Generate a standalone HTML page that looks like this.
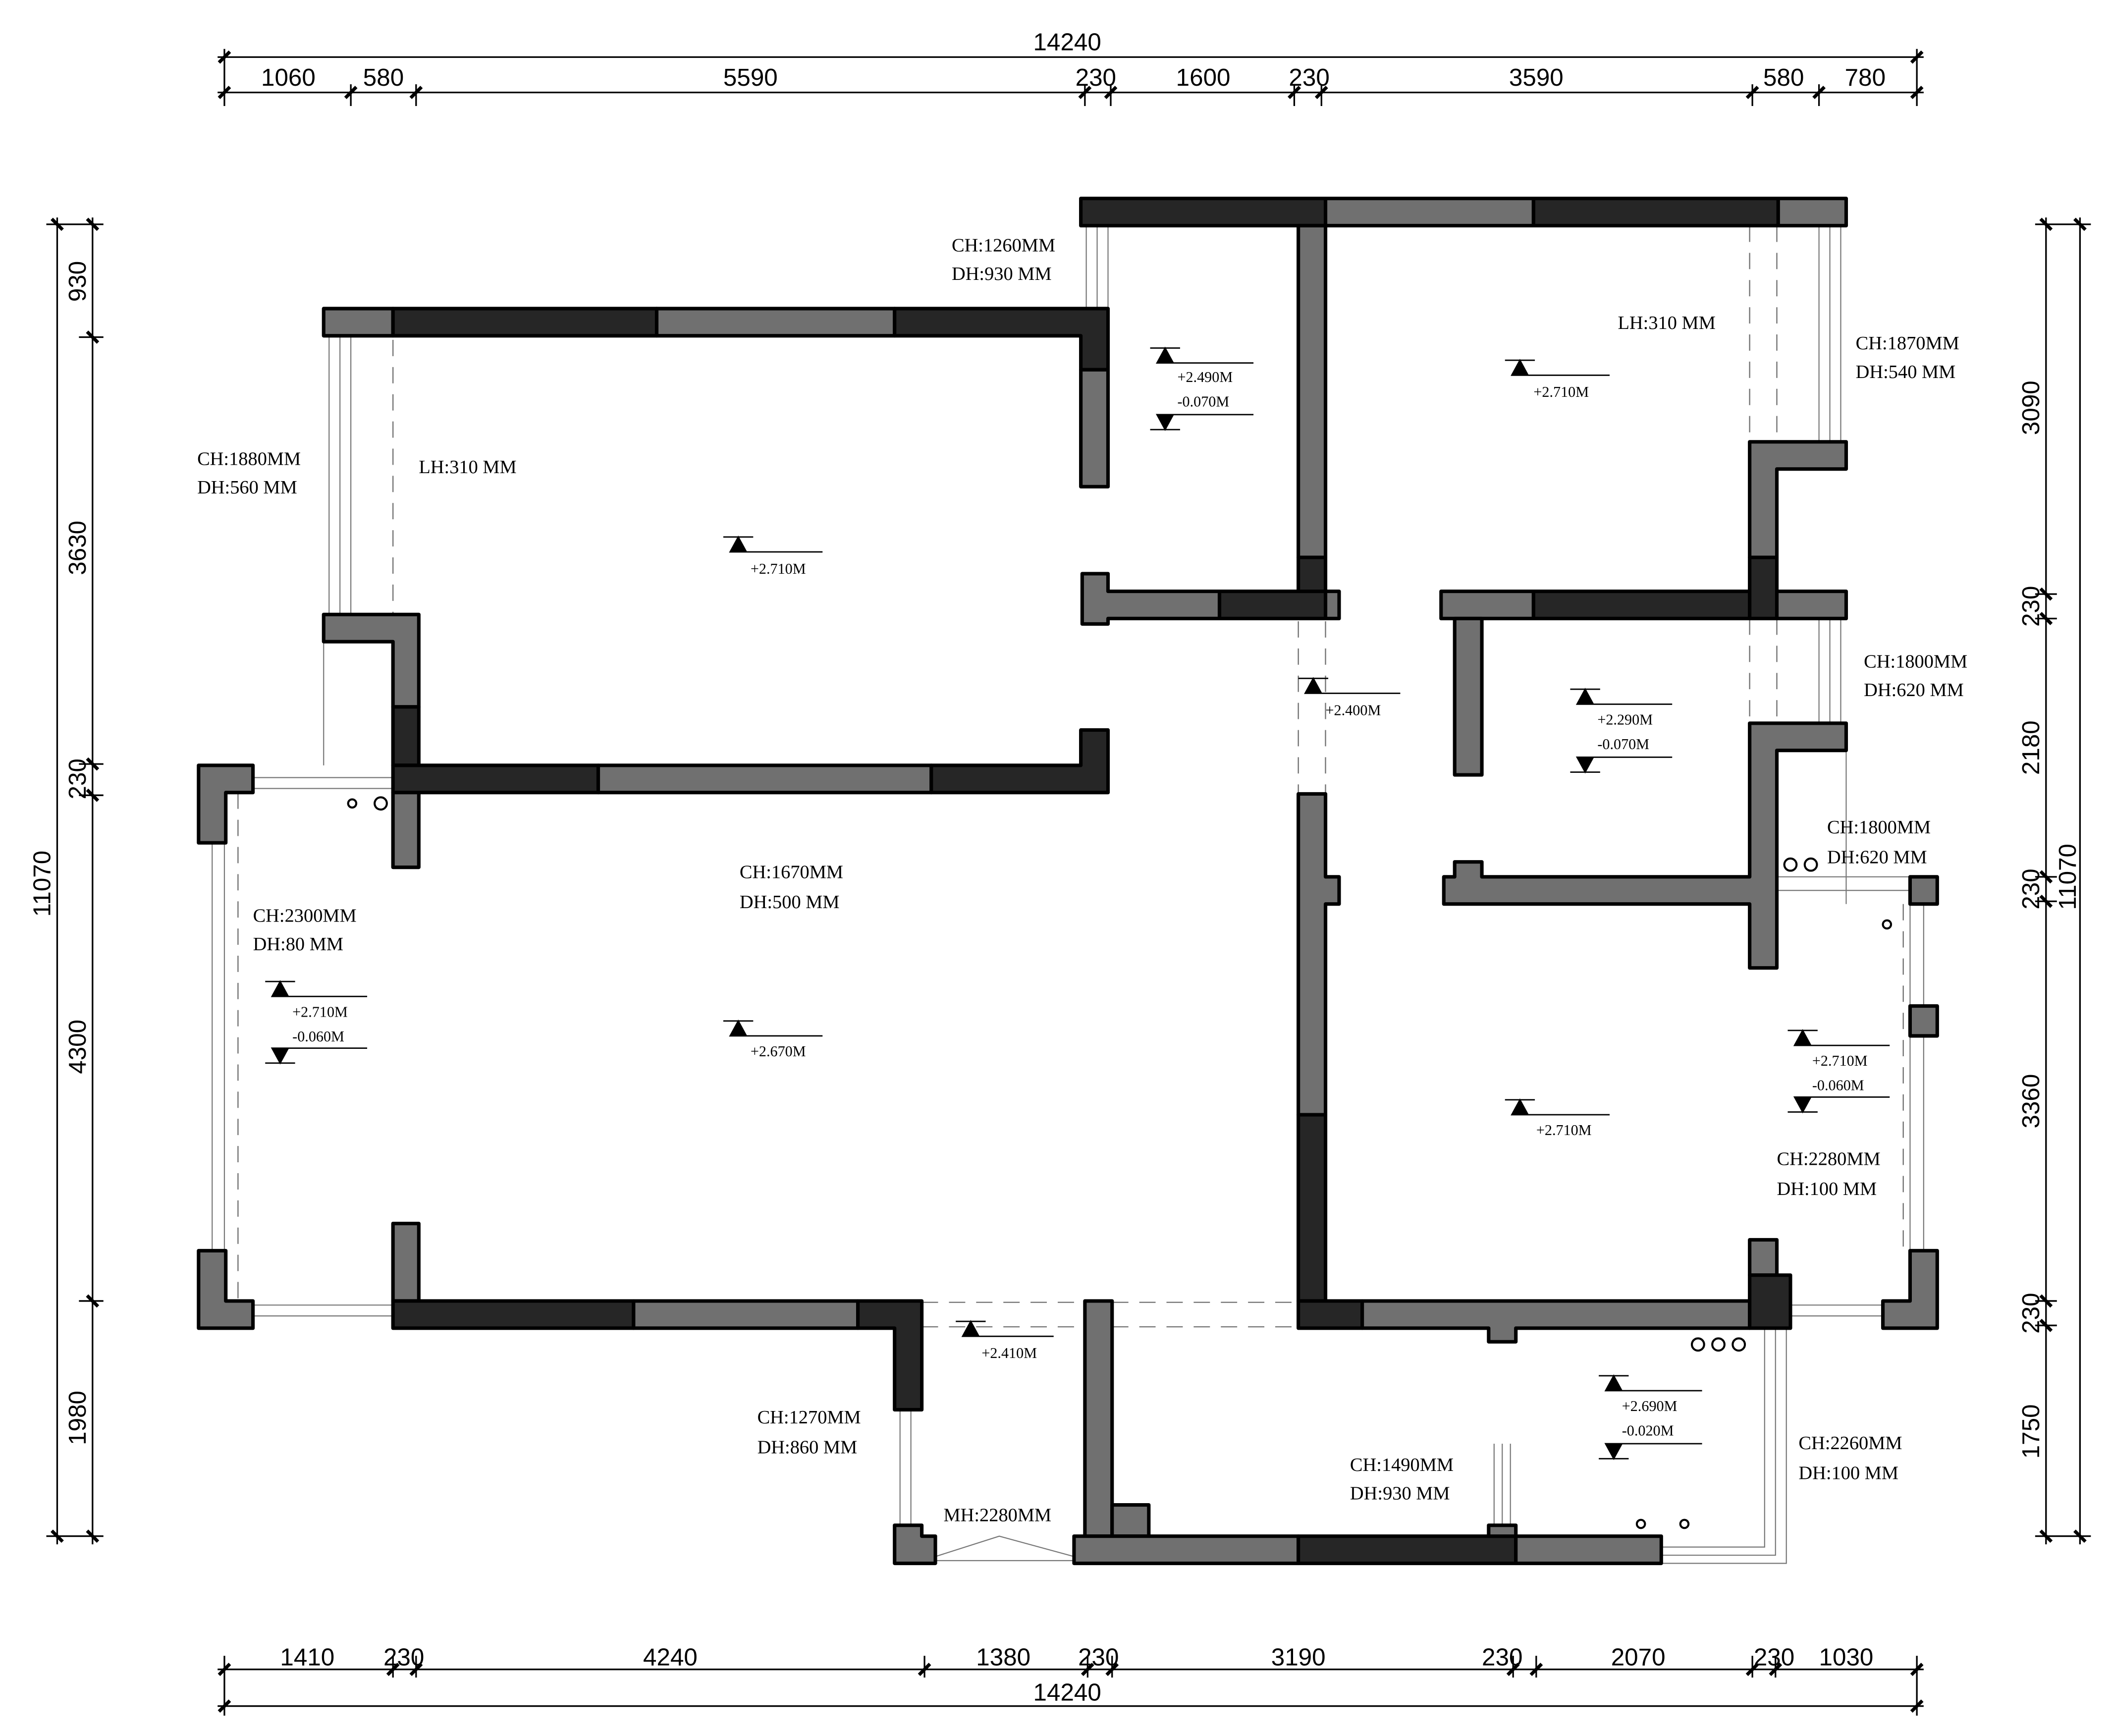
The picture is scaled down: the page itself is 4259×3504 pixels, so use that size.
<!DOCTYPE html>
<html><head><meta charset="utf-8"><style>
html,body{margin:0;padding:0;background:#fff}
svg{display:block}
.d{fill:#262626;stroke:#000;stroke-width:2.6;stroke-linejoin:round}
.g{fill:#707070;stroke:#000;stroke-width:2.6;stroke-linejoin:round}
.t{font-family:"Liberation Serif",serif;font-size:14px;fill:#000}
.s{font-family:"Liberation Serif",serif;font-size:11px;fill:#000}
.n{font-family:"Liberation Sans",sans-serif;font-size:18px;fill:#000}
.l{stroke:#000;stroke-width:1.2;fill:none}
.w{stroke:#777;stroke-width:0.8;fill:none}
.dash{stroke:#777;stroke-width:0.9;fill:none;stroke-dasharray:12 8}
</style></head><body>
<svg width="4259" height="3504" viewBox="0 0 1552 1277" xmlns="http://www.w3.org/2000/svg">
<rect width="1552" height="1277" fill="#fff"/>
<g class="l">
<line x1="160" y1="42" x2="1415" y2="42"/><line x1="160" y1="68" x2="1415" y2="68"/>
<path d="M165 36V78 M1410 36V78 M258 62V78 M306 62V78 M798 62V78 M817 62V78 M952 62V78 M972 62V78 M1289 62V78 M1338 62V78"/>
<path d="M161 46l8-8 M1406 46l8-8 M161 72l8-8 M254 72l8-8 M302 72l8-8 M794 72l8-8 M813 72l8-8 M948 72l8-8 M968 72l8-8 M1285 72l8-8 M1334 72l8-8 M1406 72l8-8" stroke-width="2.5"/>
</g>
<g class="n" text-anchor="middle">
<text x="785" y="37">14240</text>
<text x="212" y="63">1060</text><text x="282" y="63">580</text><text x="552" y="63">5590</text><text x="806" y="63">230</text><text x="885" y="63">1600</text><text x="963" y="63">230</text><text x="1130" y="63">3590</text><text x="1312" y="63">580</text><text x="1372" y="63">780</text>
</g>
<g class="l">
<line x1="160" y1="1228" x2="1415" y2="1228"/><line x1="160" y1="1255" x2="1415" y2="1255"/>
<path d="M165 1218V1262 M1410 1218V1262 M289 1218V1234 M306 1218V1234 M680 1218V1234 M800 1218V1234 M818 1218V1234 M1113 1218V1234 M1130 1218V1234 M1289 1218V1234 M1306 1218V1234"/>
<path d="M161 1232l8-8 M285 1232l8-8 M302 1232l8-8 M676 1232l8-8 M796 1232l8-8 M814 1232l8-8 M1109 1232l8-8 M1126 1232l8-8 M1285 1232l8-8 M1302 1232l8-8 M1406 1232l8-8 M161 1259l8-8 M1406 1259l8-8" stroke-width="2.5"/>
</g>
<g class="n" text-anchor="middle">
<text x="226" y="1225">1410</text><text x="297" y="1225">230</text><text x="493" y="1225">4240</text><text x="738" y="1225">1380</text><text x="808" y="1225">230</text><text x="955" y="1225">3190</text><text x="1105" y="1225">230</text><text x="1205" y="1225">2070</text><text x="1305" y="1225">230</text><text x="1358" y="1225">1030</text>
<text x="785" y="1251">14240</text>
</g>
<g class="l">
<line x1="42" y1="160" x2="42" y2="1136"/><line x1="68" y1="160" x2="68" y2="1136"/>
<path d="M34 165H76 M34 1130H76 M58 248H76 M58 562H76 M58 585H76 M58 957H76"/>
<path d="M38 161l8 8 M38 1126l8 8 M64 161l8 8 M64 244l8 8 M64 558l8 8 M64 581l8 8 M64 953l8 8 M64 1126l8 8" stroke-width="2.5"/>
</g>
<g class="n" text-anchor="middle">
<text transform="translate(63 207) rotate(-90)">930</text>
<text transform="translate(63 403) rotate(-90)">3630</text>
<text transform="translate(63 573) rotate(-90)">230</text>
<text transform="translate(63 770) rotate(-90)">4300</text>
<text transform="translate(63 1043) rotate(-90)">1980</text>
<text transform="translate(37 650) rotate(-90)">11070</text>
</g>
<g class="l">
<line x1="1505" y1="160" x2="1505" y2="1136"/><line x1="1530" y1="160" x2="1530" y2="1136"/>
<path d="M1497 165H1538 M1497 1130H1538 M1497 437H1513 M1497 455H1513 M1497 645H1513 M1497 663H1513 M1497 957H1513 M1497 975H1513"/>
<path d="M1501 161l8 8 M1526 161l8 8 M1501 1126l8 8 M1526 1126l8 8 M1501 433l8 8 M1501 451l8 8 M1501 641l8 8 M1501 659l8 8 M1501 953l8 8 M1501 971l8 8" stroke-width="2.5"/>
</g>
<g class="n" text-anchor="middle">
<text transform="translate(1500 300) rotate(-90)">3090</text>
<text transform="translate(1500 446) rotate(-90)">230</text>
<text transform="translate(1500 550) rotate(-90)">2180</text>
<text transform="translate(1500 654) rotate(-90)">230</text>
<text transform="translate(1500 810) rotate(-90)">3360</text>
<text transform="translate(1500 966) rotate(-90)">230</text>
<text transform="translate(1500 1053) rotate(-90)">1750</text>
<text transform="translate(1527 645) rotate(-90)">11070</text>
</g>
<g class="w">
<path d="M242 247V452 M250 247V452 M258 247V452 M238 472V563"/>
<path d="M799 166V227 M807 166V227 M815 166V227"/>
<path d="M1338 166V325 M1346 166V325 M1354 166V325"/>
<path d="M1338 455V532 M1346 455V532 M1354 455V532 M1358 552V665 M1307 645H1405 M1307 655H1405"/>
<path d="M165 583V920 M156 620V920 M186 572H289 M186 580H289 M186 960H289 M186 968H289"/>
<path d="M1405 665V740 M1415 665V740 M1405 762V920 M1415 762V920 M1317 960H1385 M1317 968H1385"/>
<path d="M662 1037V1122 M670 1037V1122 M688 1148H790 M688 1145L735 1130L790 1145"/>
<path d="M1298 977V1138H1222 M1306 977V1144H1222 M1314 977V1150H1222"/>
<path d="M1099 1062V1122 M1105 1062V1122 M1111 1062V1122"/>
</g>
<g class="dash">
<path d="M289 250V452 M1287 166V325 M1307 166V325 M1287 455V532 M1307 455V532 M955 457V584 M975 457V584 M678 958H955 M678 976H955 M175 583V957 M1400 665V920"/>
</g>
<rect class="d" x="795" y="146" width="180" height="20"/>
<rect class="g" x="975" y="146" width="153" height="20"/>
<rect class="d" x="1128" y="146" width="180" height="20"/>
<rect class="g" x="1308" y="146" width="50" height="20"/>
<rect class="g" x="955" y="166" width="20" height="244"/>
<rect class="d" x="955" y="410" width="20" height="27"/>
<rect class="g" x="238" y="227" width="51" height="20"/>
<rect class="d" x="289" y="227" width="194" height="20"/>
<rect class="g" x="483" y="227" width="175" height="20"/>
<path class="d" d="M658 227H815V272H795V247H658Z"/>
<rect class="g" x="795" y="272" width="20" height="86"/>
<path class="g" d="M796 422H815V435H897V455H815V459H796Z"/>
<rect class="d" x="897" y="435" width="78" height="20"/>
<rect class="g" x="975" y="435" width="10" height="20"/>
<path class="g" d="M238 452H308V520H289V472H238Z"/>
<rect class="d" x="289" y="520" width="19" height="43"/>
<rect class="d" x="289" y="563" width="151" height="20"/>
<rect class="g" x="440" y="563" width="245" height="20"/>
<path class="d" d="M685 563H795V537H815V583H685Z"/>
<rect class="g" x="289" y="583" width="19" height="55"/>
<path class="g" d="M146 563H186V583H166V620H146Z"/>
<path class="g" d="M146 920H166V957H186V977H146Z"/>
<rect class="g" x="289" y="900" width="19" height="57"/>
<rect class="d" x="289" y="957" width="177" height="20"/>
<rect class="g" x="466" y="957" width="165" height="20"/>
<path class="d" d="M631 957H678V1037H658V977H631Z"/>
<path class="g" d="M955 584H975V645H985V665H975V820H955Z"/>
<rect class="d" x="955" y="820" width="20" height="137"/>
<rect class="d" x="955" y="957" width="47" height="20"/>
<path class="g" d="M1002 957H1287V977H1115V987H1095V977H1002Z"/>
<rect class="g" x="1287" y="912" width="20" height="26"/>
<rect class="d" x="1287" y="938" width="30" height="39"/>
<rect class="g" x="1060" y="435" width="68" height="20"/>
<rect class="g" x="1070" y="455" width="20" height="115"/>
<rect class="d" x="1128" y="435" width="159" height="20"/>
<rect class="d" x="1287" y="410" width="20" height="45"/>
<rect class="g" x="1307" y="435" width="51" height="20"/>
<path class="g" d="M1287 325H1358V345H1307V410H1287Z"/>
<path class="g" d="M1287 532H1358V552H1307V712H1287V665H1062V645H1070V634H1090V645H1287Z"/>
<rect class="g" x="1405" y="645" width="20" height="20"/>
<rect class="g" x="1405" y="740" width="20" height="22"/>
<path class="g" d="M1405 920H1425V977H1385V957H1405Z"/>
<rect class="g" x="798" y="957" width="20" height="173"/>
<rect class="g" x="818" y="1107" width="27" height="23"/>
<rect class="g" x="790" y="1130" width="165" height="20"/>
<rect class="d" x="955" y="1130" width="160" height="20"/>
<rect class="g" x="1115" y="1130" width="107" height="20"/>
<rect class="g" x="1095" y="1122" width="20" height="8"/>
<path class="g" d="M658 1122H678V1130H688V1150H658Z"/>
<g fill="none" stroke="#000" stroke-width="1.5">
<circle cx="259" cy="591" r="3"/><circle cx="280" cy="591" r="4.5"/>
<circle cx="1317" cy="636" r="4.5"/><circle cx="1332" cy="636" r="4.5"/><circle cx="1388" cy="680" r="3"/>
<circle cx="1249" cy="989" r="4.5"/><circle cx="1264" cy="989" r="4.5"/><circle cx="1279" cy="989" r="4.5"/>
<circle cx="1207" cy="1121" r="3"/><circle cx="1239" cy="1121" r="3"/>
</g>
<g fill="#000" stroke="#000" stroke-width="1">
<path d="M537 406l6-11 6 11Z M532 395H554 M543 406H605"/>
<path d="M537 762l6-11 6 11Z M532 751H554 M543 762H605"/>
<path d="M1112 276l6-11 6 11Z M1107 265H1129 M1118 276H1184"/>
<path d="M1112 820l6-11 6 11Z M1107 809H1129 M1118 820H1184"/>
<path d="M960 510l6-11 6 11Z M955 499H977 M966 510H1030"/>
<path d="M708 983l6-11 6 11Z M703 972H725 M714 983H775"/>
<path d="M851 267l6-11 6 11Z M846 256H868 M857 267H922 M851 305l6 11 6-11Z M846 316H868 M857 305H922"/>
<path d="M1160 518l6-11 6 11Z M1155 507H1177 M1166 518H1230 M1160 557l6 11 6-11Z M1155 568H1177 M1166 557H1230"/>
<path d="M200 733l6-11 6 11Z M195 722H217 M206 733H270 M200 771l6 11 6-11Z M195 782H217 M206 771H270"/>
<path d="M1320 769l6-11 6 11Z M1315 758H1337 M1326 769H1390 M1320 807l6 11 6-11Z M1315 818H1337 M1326 807H1390"/>
<path d="M1181 1023l6-11 6 11Z M1176 1012H1198 M1187 1023H1252 M1181 1062l6 11 6-11Z M1176 1073H1198 M1187 1062H1252"/>
</g>
<g class="s">
<text x="552" y="422">+2.710M</text><text x="552" y="777">+2.670M</text>
<text x="1128" y="292">+2.710M</text><text x="1130" y="835">+2.710M</text>
<text x="975" y="526">+2.400M</text><text x="722" y="999">+2.410M</text>
<text x="866" y="281">+2.490M</text><text x="866" y="299">-0.070M</text>
<text x="1175" y="533">+2.290M</text><text x="1175" y="551">-0.070M</text>
<text x="215" y="748">+2.710M</text><text x="215" y="766">-0.060M</text>
<text x="1333" y="784">+2.710M</text><text x="1333" y="802">-0.060M</text>
<text x="1193" y="1038">+2.690M</text><text x="1193" y="1056">-0.020M</text>
</g>
<g class="t">
<text x="700" y="185">CH:1260MM</text><text x="700" y="206">DH:930 MM</text>
<text x="1190" y="242">LH:310 MM</text>
<text x="1365" y="257">CH:1870MM</text><text x="1365" y="278">DH:540 MM</text>
<text x="145" y="342">CH:1880MM</text><text x="145" y="363">DH:560 MM</text>
<text x="308" y="348">LH:310 MM</text>
<text x="1371" y="491">CH:1800MM</text><text x="1371" y="512">DH:620 MM</text>
<text x="1344" y="613">CH:1800MM</text><text x="1344" y="635">DH:620 MM</text>
<text x="544" y="646">CH:1670MM</text><text x="544" y="668">DH:500 MM</text>
<text x="186" y="678">CH:2300MM</text><text x="186" y="699">DH:80  MM</text>
<text x="1307" y="857">CH:2280MM</text><text x="1307" y="879">DH:100 MM</text>
<text x="557" y="1047">CH:1270MM</text><text x="557" y="1069">DH:860 MM</text>
<text x="1323" y="1066">CH:2260MM</text><text x="1323" y="1088">DH:100 MM</text>
<text x="993" y="1082">CH:1490MM</text><text x="993" y="1103">DH:930 MM</text>
<text x="694" y="1119">MH:2280MM</text>
</g>
</svg>
</body></html>
